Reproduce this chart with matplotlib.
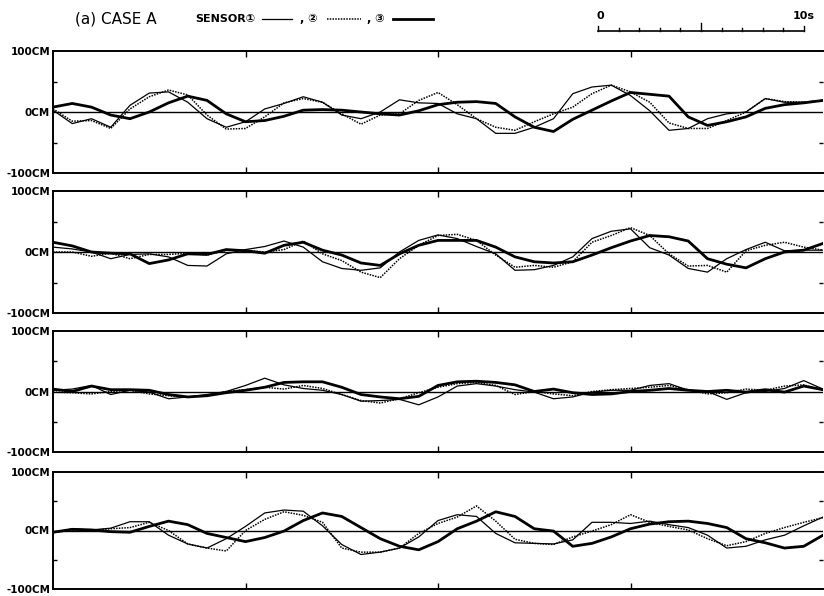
import numpy as np
import matplotlib
matplotlib.use("Agg")
import matplotlib.pyplot as plt
from matplotlib.lines import Line2D
from matplotlib.ticker import FixedLocator

# time samples (s)
t = np.arange(0, 41)

# displacement (cm), sensor 1/2/3 for each panel
p1_s1 = [3,-19,-11,-25,11,31,33,16,-11,-25,-16,5,14,25,16,-5,-11,0,20,15,14,-3,-11,-35,-35,-25,-11,30,41,44,27,2,-30,-27,-11,-3,0,22,16,16,19]
p1_s2 = [5,-15,-14,-27,5,25,36,28,-5,-28,-27,-8,15,22,16,-3,-20,-5,-3,19,32,12,-11,-25,-30,-16,-3,8,30,44,33,16,-18,-27,-27,-14,0,22,17,16,19]
p1_s3 = [8,14,8,-5,-11,0,15,26,19,-3,-16,-14,-7,3,4,3,0,-3,-5,2,12,16,17,14,-8,-25,-32,-12,3,18,32,29,26,-8,-22,-16,-8,6,12,15,19]

p2_s1 = [8,5,0,-11,-4,-3,-8,-22,-23,-3,4,9,18,8,-16,-27,-30,-26,0,19,28,22,9,-3,-30,-29,-22,-8,22,34,38,7,-5,-27,-33,-11,4,16,2,3,3]
p2_s2 = [0,0,-7,-2,-11,-4,-4,-2,-5,3,3,0,4,18,-3,-14,-33,-42,-11,11,27,29,19,-5,-25,-22,-25,-16,16,27,40,27,-3,-23,-22,-33,2,11,16,8,3]
p2_s3 = [16,10,0,-2,-3,-19,-13,-3,-4,4,2,-2,11,16,3,-5,-18,-22,-3,11,19,19,19,8,-8,-16,-18,-16,-5,7,18,27,25,18,-11,-20,-26,-11,0,3,14]

p3_s1 = [2,4,10,-5,2,-1,-12,-9,-5,0,10,22,11,5,2,-5,-16,-15,-13,-22,-9,9,13,9,3,-1,-12,-9,-1,2,2,10,13,2,0,-13,-2,0,5,18,4]
p3_s2 = [-1,-2,-4,0,2,-4,-7,-9,-7,0,3,7,4,10,5,-5,-15,-19,-12,-2,7,13,15,10,-5,0,-4,-7,0,3,5,7,10,3,-4,-2,4,2,9,11,2]
p3_s3 = [4,0,9,3,3,2,-5,-9,-7,-2,2,7,15,16,16,7,-5,-9,-12,-8,10,16,17,15,11,0,4,-2,-5,-4,0,2,5,2,0,2,-1,3,-1,9,3]

p4_s1 = [-4,3,1,4,15,15,-8,-23,-30,-14,7,30,35,33,8,-24,-41,-37,-30,-11,17,27,24,-5,-21,-22,-23,-16,14,14,12,16,10,5,-8,-30,-27,-16,-8,8,23]
p4_s2 = [-3,0,0,3,5,14,0,-23,-30,-35,0,19,32,26,14,-30,-37,-37,-30,-5,12,23,42,16,-15,-22,-24,-11,-1,10,27,14,7,1,-14,-26,-19,-5,5,14,22]
p4_s3 = [-3,2,1,-2,-3,7,16,10,-5,-12,-19,-12,-1,17,30,24,5,-14,-27,-33,-19,3,16,32,24,3,-1,-27,-22,-11,3,11,15,16,12,5,-14,-21,-30,-27,-8]

panels = [(p1_s1, p1_s2, p1_s3), (p2_s1, p2_s2, p2_s3),
          (p3_s1, p3_s2, p3_s3), (p4_s1, p4_s2, p4_s3)]

ytick_vals = [-100, 0, 100]
ytick_labels = ["-100CM", "0CM", "100CM"]
xtick_vals = [10, 20, 30]
scale_ticks = np.arange(0, 11)

W, H = 824, 596
fig = plt.figure(figsize=(W / 100, H / 100), dpi=100)

# panel pixel extents (top, bottom)
extents = [(51, 173), (191, 313), (331, 452), (472, 589)]
left_px, right_px = 53, 823

styles = [dict(lw=0.9, ls="-"), dict(lw=1.1, ls=(0, (1, 0.8))), dict(lw=2.0, ls="-")]

for (top, bot), series in zip(extents, panels):
    ax = fig.add_axes([left_px / W, 1 - bot / H, (right_px - left_px) / W, (bot - top) / H])
    ax.set_xlim(0, 40)
    ax.set_ylim(-100, 100)
    ax.axhline(0, color="black", lw=1.0)
    for s, st in zip(series, styles):
        ax.plot(t, s, color="black", solid_joinstyle="round", **st)
    for side in ["left", "top", "bottom"]:
        ax.spines[side].set_linewidth(1.4)
    ax.spines["right"].set_visible(False)
    ax.set_yticks(ytick_vals)
    ax.set_yticklabels(ytick_labels, fontsize=7.5, fontweight="bold")
    ax.yaxis.set_minor_locator(FixedLocator([-50, 50]))
    ax.tick_params(axis="y", which="major", length=0, pad=2)
    ax.tick_params(axis="y", which="minor", direction="in", length=3, width=1, left=True, right=True)
    ax.set_xticks(xtick_vals)
    ax.set_xticklabels([])
    ax.tick_params(axis="x", which="major", direction="in", length=4, width=1, top=True, bottom=True)

# header
fam = ["DejaVu Sans", "Noto Sans CJK JP"]
ty = 1 - 19 / H
fig.text(75 / W, ty, "(a) CASE A", fontsize=11, va="center", ha="left", family=fam)
fig.text(195 / W, ty, "SENSOR①", fontsize=8, va="center", ha="left", family=fam, fontweight="bold")
fig.add_artist(Line2D([262 / W, 292 / W], [ty, ty], color="black", lw=0.9, transform=fig.transFigure))
fig.text(300 / W, ty, ", ②", fontsize=8, va="center", ha="left", family=fam, fontweight="bold")
fig.add_artist(Line2D([327 / W, 361 / W], [ty, ty], color="black", lw=1.1, ls=(0, (1, 0.8)), transform=fig.transFigure))
fig.text(367 / W, ty, ", ③", fontsize=8, va="center", ha="left", family=fam, fontweight="bold")
fig.add_artist(Line2D([393 / W, 433 / W], [ty, ty], color="black", lw=2.0, transform=fig.transFigure))

# time scale bar
sax = fig.add_axes([598 / W, 1 - 40 / H, (804 - 598) / W, 20 / H])
sax.set_xlim(0, 10)
sax.set_ylim(0, 20)
sax.axis("off")
sax.plot([0, 10], [9, 9], color="black", lw=1.2, clip_on=False)
for k in scale_ticks:
    h = 8 if k == 5 else (5 if k in (0, 10) else 3)
    sax.plot([k, k], [9, 9 + h], color="black", lw=1.0, clip_on=False)
fig.text(600 / W, 1 - 16 / H, "0", fontsize=8, ha="center", va="center", fontweight="bold")
fig.text(815 / W, 1 - 16 / H, "10s", fontsize=8, ha="right", va="center", fontweight="bold")

fig.savefig("out.png", dpi=100)
